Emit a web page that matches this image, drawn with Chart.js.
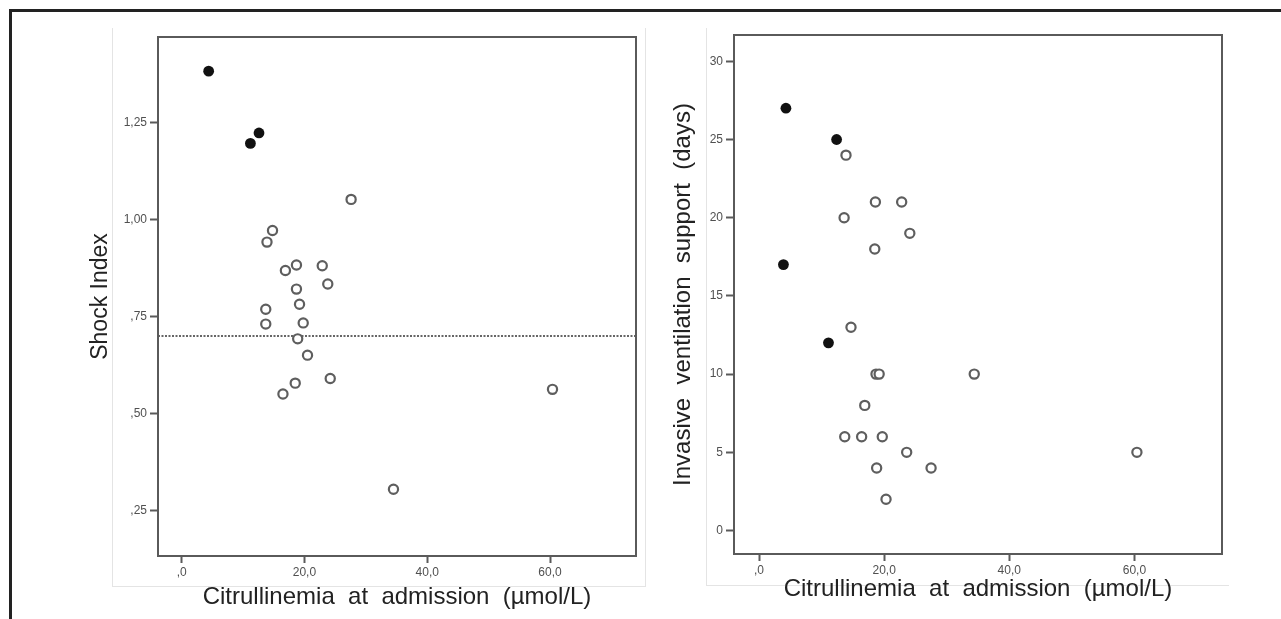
<!DOCTYPE html>
<html>
<head>
<meta charset="utf-8">
<title>Citrullinemia at admission</title>
<script src="https://cdn.jsdelivr.net/npm/chart.js@4.4.1/dist/chart.umd.min.js"></script>
<style>
  html, body { margin: 0; padding: 0; background: #fff; overflow: hidden; }
  #page { position: relative; width: 1281px; height: 619px; overflow: hidden; background: #fff; }
  #outer { position: absolute; left: 9px; top: 9px; width: 1400px; height: 800px; border: 3px solid #222; }
  .panel { position: absolute; border: 0 solid #e4e4e4; }
  #panelLeft { left: 112px; top: 28px; width: 532px; height: 558px; border-width: 0 1px 1px 1px; }
  #panelRight { left: 706px; top: 28px; width: 522px; height: 557px; border-width: 0 0 1px 1px; }
  .wrap { position: absolute; top: 0; height: 619px; }
  #wrapLeft { left: 0; width: 660px; }
  #wrapRight { left: 640px; width: 641px; }
</style>
</head>
<body>
<div id="page">
  <div id="outer"></div>
  <div class="panel" id="panelLeft"></div>
  <div class="panel" id="panelRight"></div>
  <div class="wrap" id="wrapLeft"><canvas id="shockChart"></canvas></div>
  <div class="wrap" id="wrapRight"><canvas id="ventChart"></canvas></div>
</div>
<script>
// x axis: citrullinemia (µmol/L), shared by both plots
const citTicks = [0, 20, 40, 60];
const citTickLabels = [',0', '20,0', '40,0', '60,0'];

// shock index plot
const shockTicks = [0.25, 0.5, 0.75, 1.0, 1.25];
const shockTickLabels = [',25', ',50', ',75', '1,00', '1,25'];
const shockRefLine = 0.70;
const shockFilledX = [4.4, 11.2, 12.6];
const shockFilledY = [1.382, 1.196, 1.223];
const shockOpenX = [27.6, 14.8, 13.9, 16.9, 18.7, 22.9, 23.8, 18.7, 19.2, 13.7, 13.7, 19.8, 18.9, 20.5, 24.2, 18.5, 16.5, 60.4, 34.5];
const shockOpenY = [1.052, 0.972, 0.942, 0.869, 0.883, 0.881, 0.834, 0.821, 0.782, 0.769, 0.731, 0.734, 0.693, 0.651, 0.591, 0.579, 0.551, 0.563, 0.306];

// ventilation days plot
const ventTicks = [0, 5, 10, 15, 20, 25, 30];
const ventTickLabels = ['0', '5', '10', '15', '20', '25', '30'];
const ventFilledX = [4.3, 12.4, 3.9, 11.1];
const ventFilledY = [27, 25, 17, 12];
const ventOpenX = [13.9, 18.6, 22.8, 13.6, 24.1, 18.5, 14.7, 18.7, 19.2, 34.4, 16.9, 13.7, 16.4, 19.7, 23.6, 60.4, 18.8, 27.5, 20.3];
const ventOpenY = [24, 21, 21, 20, 19, 18, 13, 10, 10, 10, 8, 6, 6, 6, 5, 5, 4, 4, 2];

const xTitle = 'Citrullinemia  at  admission  (µmol/L)';
const fontFamily = "'Liberation Sans', Arial, Helvetica, sans-serif";
const frameColor = '#5a5a5a';
const tickColor = '#505050';
const titleColor = '#222';

function toPoints(xs, ys) {
  return xs.map((x, i) => ({ x: x, y: ys[i] }));
}

// box around the plot area plus an optional dotted reference line
const framePlugin = {
  id: 'frame',
  beforeDatasetsDraw(chart, args, opts) {
    const { ctx, chartArea: a } = chart;
    ctx.save();
    if (opts.refLine !== undefined) {
      const y = chart.scales.y.getPixelForValue(opts.refLine);
      ctx.strokeStyle = '#666';
      ctx.lineWidth = 2;
      ctx.setLineDash([2, 1.5]);
      ctx.beginPath();
      ctx.moveTo(a.left, y);
      ctx.lineTo(a.right, y);
      ctx.stroke();
      ctx.setLineDash([]);
    }
    ctx.strokeStyle = frameColor;
    ctx.lineWidth = 2;
    ctx.strokeRect(a.left, a.top, a.right - a.left, a.bottom - a.top);
    ctx.restore();
  }
};

function scatterChart(canvasId, s) {
  const ctx = document.getElementById(canvasId).getContext('2d');
  return new Chart(ctx, {
    type: 'scatter',
    data: {
      datasets: [
        {
          data: toPoints(s.openX, s.openY),
          pointRadius: 4.6,
          pointBorderWidth: 2.2,
          pointBorderColor: '#5e5e5e',
          pointBackgroundColor: '#fff'
        },
        {
          data: toPoints(s.filledX, s.filledY),
          pointRadius: 5.4,
          pointBorderWidth: 0,
          pointBackgroundColor: '#111'
        }
      ]
    },
    options: {
      responsive: true,
      maintainAspectRatio: false,
      animation: false,
      layout: { padding: s.padding },
      plugins: {
        legend: { display: false },
        tooltip: { enabled: false },
        frame: { refLine: s.refLine }
      },
      scales: {
        x: {
          type: 'linear',
          min: s.xMin,
          max: s.xMax,
          afterBuildTicks: sc => { sc.ticks = citTicks.map(v => ({ value: v })); },
          afterFit: sc => { sc.height = s.xHeight; },
          ticks: {
            callback: v => citTickLabels[citTicks.indexOf(v)],
            color: tickColor,
            font: { family: fontFamily, size: 12 },
            padding: 2,
            autoSkip: false,
            maxRotation: 0
          },
          grid: { drawOnChartArea: false, drawTicks: true, tickLength: 7, tickWidth: 2, tickColor: frameColor },
          border: { display: false },
          title: {
            display: true,
            text: xTitle,
            color: titleColor,
            font: { family: fontFamily, size: 24 },
            padding: { top: 0, bottom: s.xTitlePad }
          }
        },
        y: {
          type: 'linear',
          min: s.yMin,
          max: s.yMax,
          afterBuildTicks: sc => { sc.ticks = s.yTicks.map(v => ({ value: v })); },
          afterFit: sc => { sc.width = s.yWidth; },
          ticks: {
            callback: v => s.yTickLabels[s.yTicks.indexOf(v)],
            color: tickColor,
            font: { family: fontFamily, size: 12 },
            padding: 3,
            autoSkip: false
          },
          grid: { drawOnChartArea: false, drawTicks: true, tickLength: 8, tickWidth: 2, tickColor: frameColor },
          border: { display: false },
          title: {
            display: true,
            text: s.yTitle,
            color: titleColor,
            font: { family: fontFamily, size: s.yTitleSize },
            padding: { top: s.yTitlePad, bottom: 0 }
          }
        }
      }
    },
    plugins: [framePlugin]
  });
}

window.onload = function () {
  scatterChart('shockChart', {
    openX: shockOpenX, openY: shockOpenY,
    filledX: shockFilledX, filledY: shockFilledY,
    refLine: shockRefLine,
    xMin: -3.85, xMax: 74.0,
    yMin: 0.134, yMax: 1.470,
    yTicks: shockTicks, yTickLabels: shockTickLabels,
    yTitle: 'Shock Index', yTitleSize: 23,
    padding: { left: 70, top: 37, right: 24, bottom: 0 },
    yWidth: 88, xHeight: 63,
    yTitlePad: 17, xTitlePad: 7
  });

  scatterChart('ventChart', {
    openX: ventOpenX, openY: ventOpenY,
    filledX: ventFilledX, filledY: ventFilledY,
    xMin: -4.0, xMax: 74.0,
    yMin: -1.5, yMax: 31.68,
    yTicks: ventTicks, yTickLabels: ventTickLabels,
    yTitle: 'Invasive  ventilation  support  (days)', yTitleSize: 24,
    padding: { left: 20, top: 35, right: 59, bottom: 0 },
    yWidth: 74, xHeight: 65,
    yTitlePad: 9, xTitlePad: 15
  });
};
</script>
</body>
</html>
